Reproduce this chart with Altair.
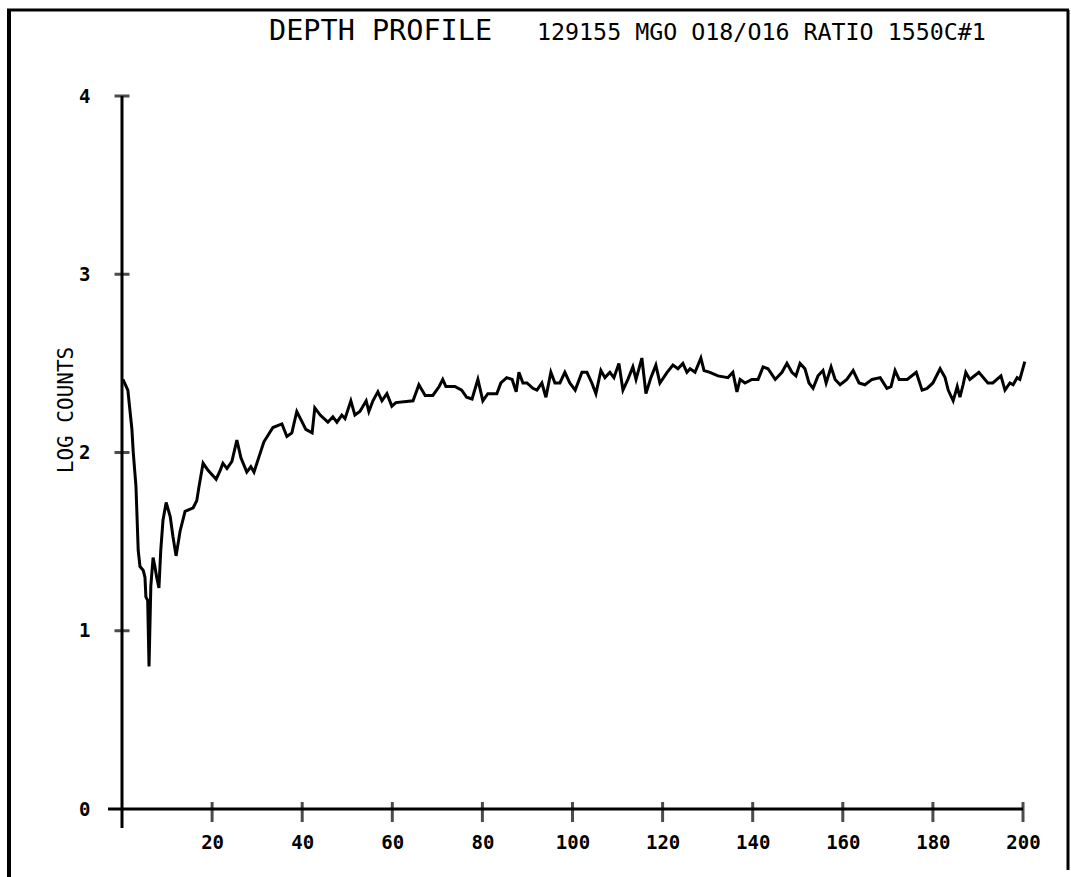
import altair as alt
import pandas as pd

# Sputter depth profile: log counts against depth channel
depth = [
    0.2, 1.3, 2.2, 2.5, 3.1, 3.6, 4.0, 4.7, 5.1, 5.3, 5.7, 6.0, 6.4, 6.9, 7.3, 7.7,
    8.2, 8.6, 9.1, 9.8, 10.7, 11.3, 12.0, 12.9, 14.0, 15.8, 16.6, 17.1, 18.0, 19.1,
    20.9, 21.8, 22.4, 23.3, 24.4, 25.5, 26.4, 27.7, 28.6, 29.3, 30.2, 31.5, 33.5,
    35.5, 36.6, 37.7, 38.8, 40.0, 40.8, 42.2, 42.8, 44.0, 45.7, 46.8, 47.7, 48.8,
    49.5, 50.8, 51.7, 52.8, 54.2, 54.8, 55.7, 56.8, 57.7, 58.8, 59.9, 60.8, 64.6,
    65.9, 67.3, 69.0, 70.4, 71.2, 71.9, 73.9, 75.4, 76.5, 77.7, 79.0, 80.1, 81.2,
    83.2, 84.1, 85.4, 86.6, 87.5, 88.1, 89.0, 89.9, 91.2, 92.1, 93.2, 94.1, 95.2,
    96.1, 97.2, 98.3, 99.4, 100.6, 102.1, 103.2, 104.3, 105.2, 106.3, 107.2, 108.3,
    109.2, 110.3, 111.2, 112.3, 113.4, 114.1, 115.4, 116.3, 117.4, 118.5, 119.4,
    121.0, 122.3, 123.4, 124.5, 125.4, 126.1, 127.2, 128.5, 129.2, 130.5, 132.3,
    134.5, 135.6, 136.5, 137.2, 138.3, 139.8, 141.2, 142.3, 143.4, 145.0, 146.5,
    147.6, 148.7, 149.6, 150.5, 151.6, 152.5, 153.4, 154.5, 155.6, 156.3, 157.4,
    158.3, 159.4, 160.9, 162.3, 163.6, 164.9, 166.5, 168.3, 169.8, 170.7, 171.6,
    172.5, 174.3, 176.3, 177.6, 178.7, 180.0, 181.6, 182.7, 183.4, 184.5, 185.4,
    186.0, 186.7, 187.3, 188.2, 190.2, 192.2, 193.3, 195.1, 196.0, 197.1, 197.8,
    198.7, 199.3, 200.4,
]
log_counts = [
    2.41, 2.35, 2.13, 2.00, 1.81, 1.45, 1.36, 1.34, 1.30, 1.19, 1.17, 0.80, 1.25,
    1.41, 1.36, 1.30, 1.24, 1.45, 1.62, 1.72, 1.64, 1.53, 1.42, 1.56, 1.67, 1.69,
    1.73, 1.81, 1.94, 1.90, 1.85, 1.90, 1.94, 1.91, 1.95, 2.07, 1.97, 1.89, 1.92,
    1.89, 1.96, 2.06, 2.14, 2.16, 2.09, 2.11, 2.23, 2.17, 2.13, 2.11, 2.25, 2.21,
    2.17, 2.20, 2.17, 2.21, 2.19, 2.29, 2.21, 2.23, 2.29, 2.23, 2.29, 2.34, 2.29,
    2.33, 2.26, 2.28, 2.29, 2.38, 2.32, 2.32, 2.37, 2.41, 2.37, 2.37, 2.35, 2.31,
    2.30, 2.41, 2.29, 2.33, 2.33, 2.39, 2.42, 2.41, 2.34, 2.45, 2.39, 2.39, 2.36,
    2.35, 2.39, 2.31, 2.45, 2.39, 2.39, 2.45, 2.39, 2.35, 2.45, 2.45, 2.39, 2.33,
    2.46, 2.42, 2.45, 2.42, 2.50, 2.35, 2.41, 2.48, 2.41, 2.53, 2.33, 2.42, 2.49,
    2.39, 2.45, 2.49, 2.47, 2.50, 2.45, 2.47, 2.45, 2.53, 2.46, 2.45, 2.43, 2.42,
    2.45, 2.34, 2.41, 2.39, 2.41, 2.41, 2.48, 2.47, 2.41, 2.45, 2.50, 2.45, 2.43,
    2.50, 2.47, 2.39, 2.36, 2.43, 2.46, 2.39, 2.48, 2.41, 2.38, 2.41, 2.46, 2.39,
    2.38, 2.41, 2.42, 2.36, 2.37, 2.46, 2.41, 2.41, 2.45, 2.35, 2.36, 2.39, 2.47,
    2.42, 2.35, 2.29, 2.37, 2.31, 2.38, 2.45, 2.41, 2.45, 2.39, 2.39, 2.43, 2.35,
    2.39, 2.38, 2.42, 2.41, 2.51,
]
x_ticks = [20, 40, 60, 80, 100, 120, 140, 160, 180, 200]
y_ticks = [0, 1, 2, 3, 4]

title_main = "DEPTH PROFILE"
title_sub = "129155 MGO O18/O16 RATIO 1550C#1"
y_title = "LOG COUNTS"

W, H = 901, 713
MONO = "DejaVu Sans Mono"

profile = pd.DataFrame({"depth": depth, "log_counts": log_counts})
xt = pd.DataFrame({"v": x_ticks})
yt = pd.DataFrame({"v": y_ticks})
one = pd.DataFrame({"t": [0]})

xs = alt.Scale(domain=[0, 200], nice=False, zero=False)
ys = alt.Scale(domain=[0, 4], nice=False, zero=False)

line = alt.Chart(profile).mark_line(color="black", strokeWidth=3, clip=False).encode(
    x=alt.X("depth:Q", scale=xs,
            axis=alt.Axis(values=x_ticks, format="d", title=None, domain=False,
                          ticks=False, tickSize=0, grid=False, labelFont=MONO,
                          labelFontWeight="bold", labelFontSize=19, labelColor="black",
                          labelPadding=24, labelFlush=False)),
    y=alt.Y("log_counts:Q", scale=ys,
            axis=alt.Axis(values=y_ticks, format="d", title=None, domain=False,
                          ticks=False, tickSize=0, grid=False, labelFont=MONO,
                          labelFontWeight="bold", labelFontSize=19, labelColor="black",
                          labelPadding=32, labelFlush=False)),
    order="depth:Q",
)

# Axis lines, extended past the origin like a plotter cross
x_axis = alt.Chart(one).mark_rule(color="black", strokeWidth=3).encode(
    x=alt.value(-14), x2=alt.value(W), y=alt.value(H))
y_axis = alt.Chart(one).mark_rule(color="black", strokeWidth=3).encode(
    x=alt.value(0), y=alt.value(0), y2=alt.value(H + 19))

x_tick_marks = alt.Chart(xt).mark_tick(color="black", orient="vertical", size=20,
                                       thickness=3, yOffset=3).encode(
    x=alt.X("v:Q", scale=xs), y=alt.datum(0, scale=ys))
y_tick_marks = alt.Chart(yt[yt.v > 0]).mark_tick(color="black", orient="horizontal",
                                                 size=15, thickness=3).encode(
    y=alt.Y("v:Q", scale=ys), x=alt.datum(0, scale=xs))

t_main = alt.Chart(one).mark_text(font=MONO, fontSize=28.5, align="left",
                                  baseline="alphabetic", color="black").encode(
    x=alt.value(147), y=alt.value(-56), text=alt.value(title_main))
t_sub = alt.Chart(one).mark_text(font=MONO, fontSize=23.3, align="left",
                                 baseline="alphabetic", color="black").encode(
    x=alt.value(415), y=alt.value(-56), text=alt.value(title_sub))
t_y = alt.Chart(one).mark_text(font=MONO, fontSize=21, angle=270, align="center",
                               baseline="middle", color="black").encode(
    x=alt.value(-55), y=alt.value(314), text=alt.value(y_title))

# Outer frame
frame_left = alt.Chart(one).mark_rule(color="black", strokeWidth=4).encode(
    x=alt.value(-113), y=alt.value(-86), y2=alt.value(781))
frame_top = alt.Chart(one).mark_rule(color="black", strokeWidth=3).encode(
    x=alt.value(-115), x2=alt.value(947), y=alt.value(-86))
frame_right = alt.Chart(one).mark_rule(color="black", strokeWidth=3).encode(
    x=alt.value(946), y=alt.value(-86), y2=alt.value(774))

chart = alt.layer(
    frame_left, frame_top, frame_right, x_axis, y_axis, x_tick_marks, y_tick_marks,
    line, t_main, t_sub, t_y,
).properties(
    width=W, height=H,
    padding={"left": 122, "top": 96, "right": 48, "bottom": 68},
    autosize=alt.AutoSizeParams(type="none"),
    background="white",
).configure_view(stroke=None)

chart.save("out.html", embed_options={"renderer": "svg", "actions": False})
